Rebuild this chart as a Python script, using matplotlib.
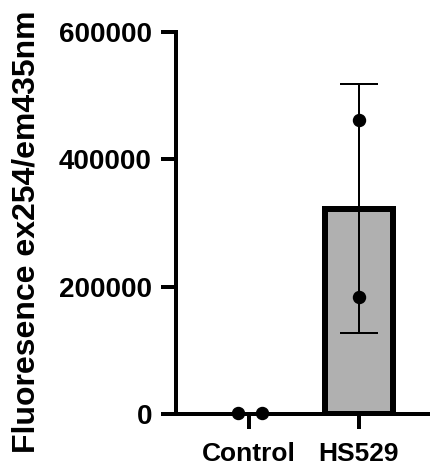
import numpy as np
import matplotlib
matplotlib.use('Agg')
import matplotlib.pyplot as plt

### data
groups = ['Control', 'HS529']
control_pts = [1200, 1800]
hs529_pts = [461000, 184000]
jitter = [[-0.1, 0.12], [0.0, 0.0]]
yticks = [0, 200000, 400000, 600000]
ylabel = 'Fluoresence ex254/em435nm'

### style
plt.rcParams['font.family'] = ['Liberation Sans', 'DejaVu Sans']
plt.rcParams['font.weight'] = 'bold'

def px(p):
    'pixels -> points at dpi 100'
    return p * 0.72

fig = plt.figure(figsize=(4.31, 4.69), dpi=100)
ax = fig.add_axes([176/431, 1-414/469, 1-176/431, (414-32)/469])

pts = [np.array(control_pts), np.array(hs529_pts)]
means = [p.mean() for p in pts]
sds = [p.std(ddof=1) for p in pts]
x = np.arange(len(groups))

'bars (control bar sits on the axis, no visible edge)'
ax.bar(x, means, width=0.62, color=['white', '#b0b0b0'], edgecolor='black',
       linewidth=[0, px(6)], zorder=2)
'error bars'
ax.errorbar(x, means, yerr=sds, fmt='none', ecolor='black', elinewidth=px(2),
            capsize=px(19), capthick=px(2), zorder=3)
'points'
for i in range(len(groups)):
    ax.plot(x[i] + np.array(jitter[i]), pts[i], 'o', color='black',
            markersize=px(12), zorder=4, clip_on=False)

### axes
ax.set_xlim(-0.664, 1.655)
ax.set_ylim(0, 600000)
ax.set_yticks(yticks)
ax.set_yticklabels([str(t) for t in yticks])
ax.set_xticks(x)
ax.set_xticklabels(groups)
for s in ['top', 'right']:
    ax.spines[s].set_visible(False)
for s in ['left', 'bottom']:
    ax.spines[s].set_linewidth(px(4))
ax.tick_params(axis='both', length=px(15), width=px(4))
ax.tick_params(axis='y', pad=6.5, labelsize=20)
ax.tick_params(axis='x', pad=9, labelsize=19)
for lab in ax.get_xticklabels() + ax.get_yticklabels():
    lab.set_fontweight('bold')

fig.text(26.5/431, 1-232/469, ylabel, rotation=90, ha='center', va='center',
         fontsize=23, fontweight='bold')

plt.savefig('out.png', dpi=100)
